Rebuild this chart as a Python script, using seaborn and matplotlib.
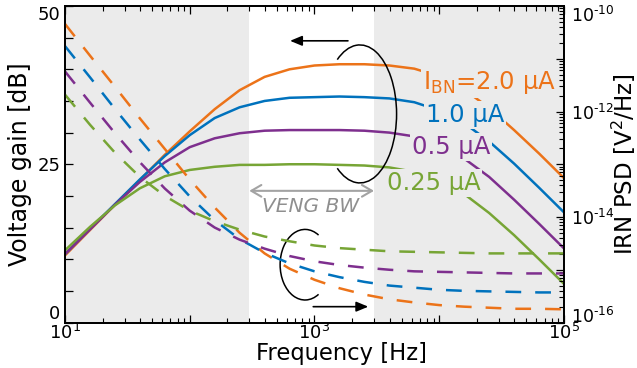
import numpy as np
import pandas as pd
import matplotlib
matplotlib.use("Agg")
import matplotlib.pyplot as plt
import seaborn as sns
from matplotlib.patches import Arc
from matplotlib.ticker import FixedLocator, FixedFormatter, LogLocator, NullFormatter

# ---------------- data ----------------
freq_hz = [10, 15.85, 25.12, 39.81, 63.1, 100, 158.5, 251.2, 398.1, 631, 1000,
           1585, 2512, 3981, 6310, 10000, 15850, 25120, 39810, 63100, 100000]

currents = ["2.0", "1.0", "0.5", "0.25"]
current_labels = ["I$_{\\mathrm{BN}}$=2.0 µA", "1.0 µA", "0.5 µA", "0.25 µA"]

gain_2u0 = [10.6, 14.6, 18.6, 22.5, 26.5, 30.2, 33.7, 36.7, 38.8, 40.0, 40.6,
            40.8, 40.8, 40.6, 40.1, 38.9, 36.8, 33.9, 30.4, 26.7, 22.8]
gain_1u0 = [10.8, 14.8, 18.7, 22.6, 26.3, 29.6, 32.3, 34.0, 35.0, 35.5, 35.6,
            35.7, 35.6, 35.4, 34.8, 33.5, 31.5, 28.6, 25.1, 21.3, 17.4]
gain_0u5 = [10.8, 14.7, 18.6, 22.2, 25.3, 27.7, 29.1, 29.9, 30.3, 30.4, 30.4,
            30.4, 30.3, 30.0, 29.4, 28.1, 25.9, 23.0, 19.4, 15.6, 11.7]
gain_0u25 = [11.4, 15.1, 18.5, 21.2, 23.1, 24.1, 24.6, 24.9, 24.9, 25.0, 25.0,
             24.9, 24.8, 24.5, 23.8, 22.5, 20.3, 17.3, 13.8, 10.0, 6.1]

# input-referred noise PSD, as log10(V^2/Hz)
irn_exp_2u0 = [-10.34, -10.94, -11.53, -12.13, -12.71, -13.29, -13.82, -14.30,
               -14.69, -14.98, -15.19, -15.35, -15.47, -15.56, -15.62, -15.67,
               -15.70, -15.72, -15.74, -15.74, -15.75]
irn_exp_1u0 = [-10.76, -11.35, -11.95, -12.53, -13.09, -13.61, -14.06, -14.42,
               -14.68, -14.88, -15.03, -15.14, -15.23, -15.30, -15.34, -15.38,
               -15.40, -15.41, -15.42, -15.43, -15.43]
irn_exp_0u5 = [-11.24, -11.83, -12.41, -12.96, -13.46, -13.88, -14.20, -14.43,
               -14.60, -14.74, -14.84, -14.91, -14.96, -15.00, -15.03, -15.04,
               -15.05, -15.06, -15.07, -15.07, -15.07]
irn_exp_0u25 = [-11.68, -12.25, -12.78, -13.24, -13.60, -13.88, -14.08, -14.24,
                -14.37, -14.46, -14.54, -14.59, -14.62, -14.65, -14.66, -14.67,
                -14.68, -14.69, -14.69, -14.69, -14.69]

HY = "\u2010"  # short hyphen for the exponents
x_ticks = [10, 100, 1000, 10000, 100000]
x_ticklabels = ["$10^{1}$", "", "$10^{3}$", "", "$10^{5}$"]
y_ticks = [0, 5, 10, 15, 20, 25, 30, 35, 40, 45, 50]
y_ticklabels = ["0", "", "", "", "", "25", "", "", "", "", "50"]
y2_ticks = [1e-16, 1e-15, 1e-14, 1e-13, 1e-12, 1e-11, 1e-10]
y2_ticklabels = ["$10^{%s16}$" % HY, "", "$10^{%s14}$" % HY, "",
                 "$10^{%s12}$" % HY, "", "$10^{%s10}$" % HY]

band_lo, band_hi = 300, 3000

colors = ["#EC7319", "#0072BD", "#7E2F8E", "#77A535"]

# ---------------- tables ----------------
gains = [gain_2u0, gain_1u0, gain_0u5, gain_0u25]
irns = [irn_exp_2u0, irn_exp_1u0, irn_exp_0u5, irn_exp_0u25]
df_gain = pd.concat([pd.DataFrame({"freq": freq_hz, "gain": g, "current": c})
                     for c, g in zip(currents, gains)], ignore_index=True)
df_irn = pd.concat([pd.DataFrame({"freq": freq_hz, "psd": np.power(10.0, e), "current": c})
                    for c, e in zip(currents, irns)], ignore_index=True)
palette = dict(zip(currents, colors))

# ---------------- figure ----------------
sns.set_theme(style="ticks")
plt.rcParams["font.family"] = ["DejaVu Sans"]
plt.rcParams["mathtext.fontset"] = "dejavusans"
plt.rcParams["axes.edgecolor"] = "black"
plt.rcParams["text.color"] = "black"
plt.rcParams["axes.labelcolor"] = "black"
plt.rcParams["xtick.color"] = "black"
plt.rcParams["ytick.color"] = "black"

fig = plt.figure(figsize=(6.37, 3.68), dpi=100)
ax = fig.add_axes([0.10204, 0.12364, 0.78336, 0.86005])
ax.set_xscale("log")
ax.set_facecolor("#ebebeb")
ax.axvspan(band_lo, band_hi, color="white", lw=0, zorder=0)

sns.lineplot(data=df_gain, x="freq", y="gain", hue="current", hue_order=currents,
             palette=palette, ax=ax, legend=False, linewidth=1.8, estimator=None)

ax2 = ax.twinx()
ax2.set_yscale("log")
sns.lineplot(data=df_irn, x="freq", y="psd", hue="current", hue_order=currents,
             palette=palette, ax=ax2, legend=False, linewidth=1.8, estimator=None)
for ln in ax2.lines:
    ln.set_dashes((6.3, 5.6))

ax.set_xlim(10, 1e5)
ax.set_ylim(0, 50)
ax2.set_ylim(1e-16, 1e-10)

# ticks
ax.xaxis.set_major_locator(FixedLocator(x_ticks))
ax.xaxis.set_major_formatter(FixedFormatter(x_ticklabels))
ax.xaxis.set_minor_locator(LogLocator(base=10, subs=np.arange(2, 10), numticks=50))
ax.xaxis.set_minor_formatter(NullFormatter())
ax.yaxis.set_major_locator(FixedLocator(y_ticks))
ax.yaxis.set_major_formatter(FixedFormatter(y_ticklabels))
ax2.yaxis.set_major_locator(FixedLocator(y2_ticks))
ax2.yaxis.set_major_formatter(FixedFormatter(y2_ticklabels))
ax2.yaxis.set_minor_locator(LogLocator(base=10, subs=np.arange(2, 10), numticks=50))
ax2.yaxis.set_minor_formatter(NullFormatter())

ax.tick_params(axis="both", which="both", direction="in", top=True, labelsize=13)
ax.tick_params(axis="both", which="major", length=6, width=0.9)
ax.tick_params(axis="both", which="minor", length=3.5, width=0.8)
ax.tick_params(axis="y", pad=3.5)
ax.tick_params(axis="x", pad=0.5)
ax2.tick_params(axis="y", which="both", direction="in", labelsize=12.5, pad=5)
ax2.tick_params(axis="y", which="major", length=6, width=0.9)
ax2.tick_params(axis="y", which="minor", length=3.5, width=0.8)
for a in (ax, ax2):
    for sp in a.spines.values():
        sp.set_linewidth(1.3)
        sp.set_color("black")

# keep end labels inside the axes height
yt = ax.yaxis.get_major_ticks()
yt[0].label1.set_verticalalignment("bottom")
yt[-1].label1.set_verticalalignment("top")
y2t = ax2.yaxis.get_major_ticks()
y2t[0].label2.set_verticalalignment("baseline")
y2t[-1].label2.set_verticalalignment("top")

ax.set_xlabel("Frequency [Hz]", fontsize=16.3)
ax.xaxis.set_label_coords(0.555, -0.0605)
ax.set_ylabel("Voltage gain [dB]", fontsize=17, labelpad=4)
ax2.set_ylabel("IRN PSD [V$^2$/Hz]", fontsize=16.5)
ax2.yaxis.set_label_coords(1.0925, 0.5)

# ---------------- annotations ----------------
label_pos = [(7413, 36.9), (7834, 31.7), (6012, 26.6), (3793, 20.9)]
for (lx, ly), txt, col in zip(label_pos, current_labels, colors):
    ax2.text(lx, ly, txt, transform=ax.transData, color=col, fontsize=17.5,
             ha="left", va="baseline",
             bbox=dict(boxstyle="square,pad=0.08", facecolor="#ebebeb", edgecolor="none"))

# VENG bandwidth marker
ax2.annotate("", xy=(band_hi, 20.8), xycoords=ax.transData,
             xytext=(band_lo, 20.8), textcoords=ax.transData,
             arrowprops=dict(arrowstyle="<->,head_length=0.6,head_width=0.35",
                             color="#a3a3a3", lw=1.5, shrinkA=0, shrinkB=0))
ax2.text(938, 18.3, "VENG BW", transform=ax.transData, color="#8f8f8f",
         fontsize=14.5, style="italic", ha="center", va="center")

# direction arrows
ax2.annotate("", xy=(637, 44.5), xycoords=ax.transData,
             xytext=(1854, 44.5), textcoords=ax.transData,
             arrowprops=dict(arrowstyle="-|>,head_length=0.6,head_width=0.25",
                             color="black", lw=1.2, shrinkA=0, shrinkB=0))
ax2.annotate("", xy=(2698, 2.5), xycoords=ax.transData,
             xytext=(977, 2.5), textcoords=ax.transData,
             arrowprops=dict(arrowstyle="-|>,head_length=0.6,head_width=0.25",
                             color="black", lw=1.2, shrinkA=0, shrinkB=0))

# ellipse arcs
ax2.add_patch(Arc((0.591, 0.659), 0.147, 0.436, theta1=-104.8, theta2=104.8,
                  transform=ax2.transAxes, color="black", lw=1.1))
ax2.add_patch(Arc((0.481, 0.1826), 0.0998, 0.223, theta1=73.8, theta2=286.2,
                  transform=ax2.transAxes, color="black", lw=1.1))

fig.savefig("out.png", dpi=100)
